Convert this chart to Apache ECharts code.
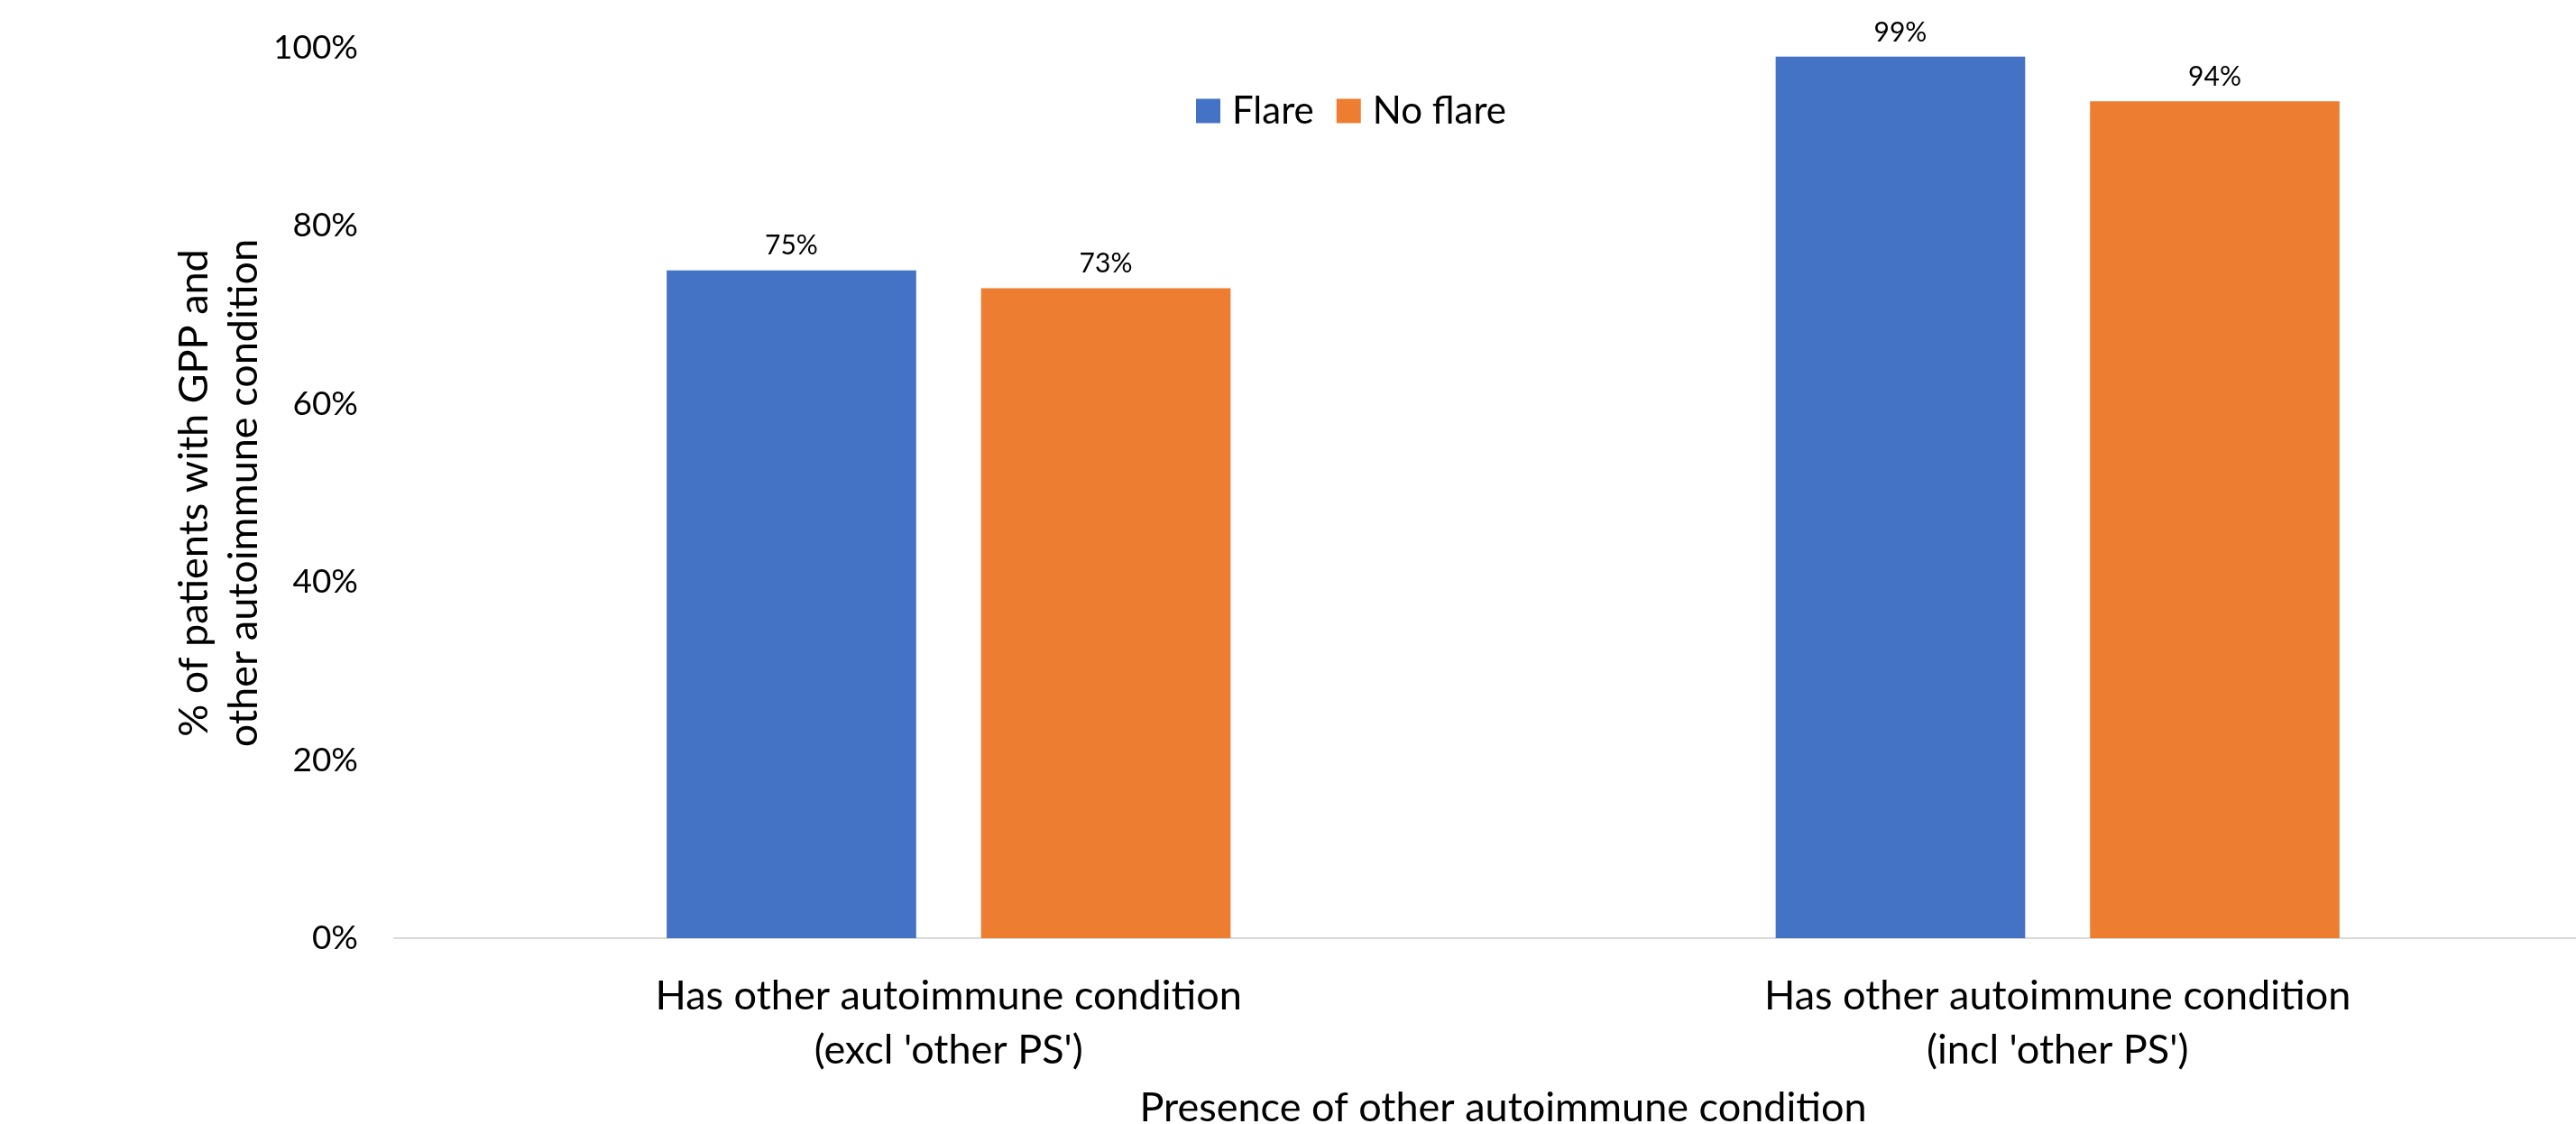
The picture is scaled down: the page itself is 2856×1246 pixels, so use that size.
<!DOCTYPE html>
<html>
<head>
<meta charset="utf-8">
<script src="https://cdn.jsdelivr.net/npm/echarts@6/dist/echarts.min.js"></script>
<style>
  html, body { margin: 0; padding: 0; background: #ffffff; }
  #chart { width: 2856px; height: 1246px; }
</style>
</head>
<body>
<div id="chart"></div>
<script>
// Share of GPP patients with another autoimmune condition, by flare status
const categories = [
  "Has other autoimmune condition\n(excl 'other PS')",
  "Has other autoimmune condition\n(incl 'other PS')"
];
const seriesNames = ['Flare', 'No flare'];
const flareValues = [75, 99];
const noFlareValues = [73, 94];
const yTicks = [0, 20, 40, 60, 80, 100];

const FONT = 'Lato, "Open Sans", sans-serif';
const chart = echarts.init(document.getElementById('chart'), null, { renderer: 'canvas' });

chart.setOption({
  animation: false,
  backgroundColor: '#ffffff',
  textStyle: { fontFamily: FONT, color: '#000000' },
  legend: {
    data: seriesNames,
    left: 1321,
    top: 97,
    itemWidth: 27,
    itemHeight: 27,
    itemGap: 25,
    icon: 'rect',
    textStyle: { fontFamily: FONT, fontSize: 42, color: '#000000', padding: [0, 0, 0, 8] }
  },
  grid: {
    left: 437,
    right: -40,
    top: 53,
    bottom: 206,
    containLabel: false,
    outerBoundsMode: 'none'
  },
  xAxis: {
    type: 'category',
    data: categories,
    name: 'Presence of other autoimmune condition',
    nameLocation: 'middle',
    nameGap: 166,
    nameMoveOverlap: false,
    nameTextStyle: { fontFamily: FONT, fontSize: 45, color: '#000000' },
    axisLine: { show: true, lineStyle: { color: '#d9d9d9', width: 2 } },
    axisTick: { show: false },
    axisLabel: {
      margin: 34,
      fontFamily: FONT,
      fontSize: 45,
      lineHeight: 60,
      color: '#000000',
      interval: 0
    }
  },
  yAxis: {
    type: 'value',
    min: yTicks[0],
    max: yTicks[yTicks.length - 1],
    interval: 20,
    name: '% of patients with GPP and\nother autoimmune condition',
    nameLocation: 'middle',
    nameGap: 139,
    nameMoveOverlap: false,
    nameTextStyle: { fontFamily: FONT, fontSize: 45, lineHeight: 55, color: '#000000' },
    axisLine: { show: false },
    axisTick: { show: false },
    splitLine: { show: false },
    axisLabel: {
      margin: 40,
      fontFamily: FONT,
      fontSize: 37,
      color: '#000000',
      formatter: v => v + '%'
    }
  },
  series: [
    {
      name: seriesNames[0],
      type: 'bar',
      data: flareValues,
      barWidth: '22.5%',
      barGap: '26%',
      itemStyle: { color: '#4472c4' },
      label: {
        show: true,
        position: 'top',
        distance: 12,
        fontFamily: FONT,
        fontSize: 30,
        color: '#000000',
        formatter: p => p.value + '%'
      }
    },
    {
      name: seriesNames[1],
      type: 'bar',
      data: noFlareValues,
      barWidth: '22.5%',
      barGap: '26%',
      itemStyle: { color: '#ed7d31' },
      label: {
        show: true,
        position: 'top',
        distance: 12,
        fontFamily: FONT,
        fontSize: 30,
        color: '#000000',
        formatter: p => p.value + '%'
      }
    }
  ]
});
</script>
</body>
</html>
